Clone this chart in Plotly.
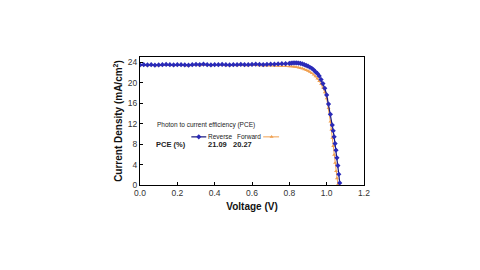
import plotly.graph_objects as go

voltage = [0.00, 0.02, 0.04, 0.06, 0.08, 0.10, 0.12, 0.14, 0.16, 0.18,
           0.20, 0.22, 0.24, 0.26, 0.28, 0.30, 0.32, 0.34, 0.36, 0.38,
           0.40, 0.42, 0.44, 0.46, 0.48, 0.50, 0.52, 0.54, 0.56, 0.58,
           0.60, 0.62, 0.64, 0.66, 0.68, 0.70, 0.72, 0.74, 0.76, 0.78,
           0.80, 0.81, 0.82, 0.83, 0.84, 0.85, 0.86, 0.87, 0.88, 0.89,
           0.90, 0.91, 0.92, 0.93, 0.94, 0.95, 0.96, 0.97, 0.98, 0.99,
           1.00, 1.01, 1.02, 1.03, 1.035, 1.04, 1.045, 1.05, 1.055, 1.06, 1.065, 1.07]

reverse_j = [23.45, 23.50, 23.45, 23.50, 23.40, 23.45, 23.50, 23.55, 23.50, 23.45,
             23.50, 23.50, 23.45, 23.40, 23.50, 23.55, 23.50, 23.60, 23.50, 23.45,
             23.50, 23.50, 23.55, 23.50, 23.45, 23.50, 23.50, 23.55, 23.50, 23.50,
             23.55, 23.60, 23.55, 23.50, 23.55, 23.60, 23.60, 23.65, 23.70, 23.70,
             23.75, 23.80, 23.85, 23.85, 23.85, 23.80, 23.75, 23.65, 23.50, 23.35,
             23.20, 23.00, 22.80, 22.50, 22.10, 21.80, 21.30, 20.60, 19.80, 18.90,
             17.60, 15.80, 13.80, 11.70, 10.60, 9.40, 8.10, 6.80, 5.30, 3.80, 2.10, 0.40]

forward_v = [0.00, 0.02, 0.04, 0.06, 0.08, 0.10, 0.12, 0.14, 0.16, 0.18,
             0.20, 0.22, 0.24, 0.26, 0.28, 0.30, 0.32, 0.34, 0.36, 0.38,
             0.40, 0.42, 0.44, 0.46, 0.48, 0.50, 0.52, 0.54, 0.56, 0.58,
             0.60, 0.62, 0.64, 0.66, 0.68, 0.70, 0.72, 0.74, 0.76, 0.78,
             0.80, 0.81, 0.82, 0.83, 0.84, 0.85, 0.86, 0.87, 0.88, 0.89,
             0.90, 0.91, 0.92, 0.93, 0.94, 0.95, 0.96, 0.97, 0.98, 0.99,
             1.00, 1.01, 1.02, 1.025, 1.03, 1.035, 1.04, 1.045, 1.05, 1.055, 1.06]

forward_j = [23.35, 23.40, 23.35, 23.40, 23.35, 23.35, 23.40, 23.45, 23.40, 23.35,
             23.40, 23.40, 23.35, 23.30, 23.40, 23.40, 23.35, 23.45, 23.40, 23.35,
             23.40, 23.40, 23.40, 23.35, 23.35, 23.40, 23.35, 23.40, 23.35, 23.35,
             23.40, 23.40, 23.35, 23.30, 23.30, 23.30, 23.25, 23.25, 23.20, 23.20,
             23.15, 23.15, 23.10, 23.05, 23.00, 22.95, 22.85, 22.75, 22.60, 22.45,
             22.30, 22.10, 21.85, 21.55, 21.20, 20.80, 20.30, 19.70, 19.00, 18.10,
             16.90, 15.00, 12.40, 10.80, 9.20, 7.60, 5.90, 4.30, 2.70, 1.30, 0.10]

x_ticks = [0.0, 0.2, 0.4, 0.6, 0.8, 1.0, 1.2]
x_tick_labels = ["0.0", "0.2", "0.4", "0.6", "0.8", "1.0", "1.2"]
y_ticks = [0, 4, 8, 12, 16, 20, 24]
y_tick_labels = ["0", "4", "8", "12", "16", "20", "24"]

pce_reverse = "21.09"
pce_forward = "20.27"

blue = "#2a2ab8"
blue_line = "#14147a"
orange = "#f0a050"

fig = go.Figure()
fig.add_trace(go.Scatter(
    x=forward_v, y=forward_j, mode="lines+markers",
    line=dict(color=orange, width=1),
    marker=dict(symbol="triangle-up", size=3.5, color=orange),
    showlegend=False))
fig.add_trace(go.Scatter(
    x=voltage, y=reverse_j, mode="lines+markers",
    line=dict(color=blue_line, width=1.2),
    marker=dict(symbol="diamond", size=4, color=blue),
    showlegend=False))

# custom legend samples
fig.add_trace(go.Scatter(
    x=[0.275, 0.355], y=[9.4, 9.4], mode="lines",
    line=dict(color=blue_line, width=1.2),
    showlegend=False, hoverinfo="skip"))
fig.add_trace(go.Scatter(
    x=[0.315], y=[9.4], mode="markers",
    marker=dict(symbol="diamond", size=4, color=blue),
    showlegend=False, hoverinfo="skip"))
fig.add_trace(go.Scatter(
    x=[0.66, 0.745], y=[9.4, 9.4], mode="lines",
    line=dict(color=orange, width=1),
    showlegend=False, hoverinfo="skip"))
fig.add_trace(go.Scatter(
    x=[0.705], y=[9.4], mode="markers",
    marker=dict(symbol="triangle-up", size=3.5, color=orange),
    showlegend=False, hoverinfo="skip"))

txt = dict(family="Liberation Sans, Arial", color="#222222")
fig.add_annotation(x=0.355, y=11.7, text="Photon to current efficiency (PCE)",
                   showarrow=False, font=dict(size=6.5, **txt))
fig.add_annotation(x=0.43, y=9.4, text="Reverse", showarrow=False,
                   font=dict(size=6.5, **txt))
fig.add_annotation(x=0.585, y=9.4, text="Forward", showarrow=False,
                   font=dict(size=6.5, **txt))
fig.add_annotation(x=0.165, y=8.0, text="<b>PCE (%)</b>", showarrow=False,
                   font=dict(size=7.5, **txt))
fig.add_annotation(x=0.415, y=8.0, text="<b>" + pce_reverse + "</b>", showarrow=False,
                   font=dict(size=7.5, **txt))
fig.add_annotation(x=0.55, y=8.0, text="<b>" + pce_forward + "</b>", showarrow=False,
                   font=dict(size=7.5, **txt))

axis_common = dict(showline=True, linecolor="black", linewidth=1.2, mirror=True,
                   ticks="inside", ticklen=3, tickcolor="black", showgrid=False,
                   zeroline=False, tickfont=dict(family="Liberation Sans, Arial",
                                                  size=8.5, color="#333333"))
fig.update_xaxes(range=[0, 1.2], tickvals=x_ticks, ticktext=x_tick_labels,
                 title=dict(text="<b>Voltage (V)</b>", standoff=5,
                            font=dict(family="Liberation Sans, Arial", size=10, color="#111111")),
                 **axis_common)
fig.update_yaxes(range=[0, 25], tickvals=y_ticks, ticktext=y_tick_labels,
                 title=dict(text="<b>Current Density (mA/cm<sup>2</sup>)</b>", standoff=3,
                            font=dict(family="Liberation Sans, Arial", size=10, color="#111111")),
                 **axis_common)

fig.update_layout(width=480, height=270, plot_bgcolor="white", paper_bgcolor="white",
                  margin=dict(l=140, r=116, t=57, b=85))
fig.write_html("out.html")
